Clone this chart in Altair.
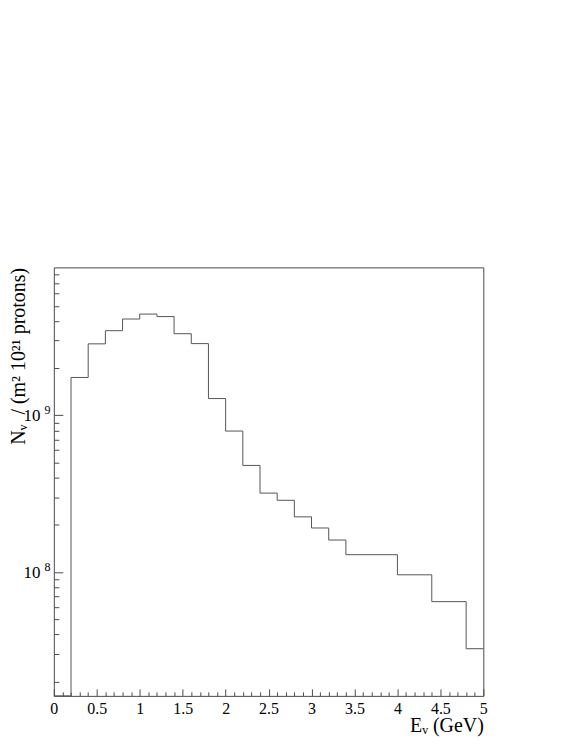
import altair as alt
import pandas as pd

# ---- data ----
EDGES = [0.0, 0.2, 0.4, 0.6, 0.8, 1.0, 1.2, 1.4, 1.6, 1.8, 2.0,
         2.2, 2.4, 2.6, 2.8, 3.0, 3.2, 3.4, 4.0, 4.4, 4.8, 5.0]
COUNTS = [0.0, 1.745e9, 2.86e9, 3.47e9, 4.12e9, 4.43e9, 4.27e9, 3.32e9,
          2.87e9, 1.28e9, 7.94e8, 4.79e8, 3.19e8, 2.87e8, 2.25e8, 1.91e8,
          1.60e8, 1.29e8, 9.6e7, 6.47e7, 3.24e7]

X_MAJOR = [0, 0.5, 1, 1.5, 2, 2.5, 3, 3.5, 4, 4.5, 5]
X_TICKS = [round(i * 0.1, 1) for i in range(51)]
Y_MIN, Y_MAX = 1.62e7, 8.8e9
Y_LABELS = [1e8, 1e9]
Y_TICKS = [m * 10 ** e for e in (7, 8, 9) for m in range(1, 10)
           if Y_MIN <= m * 10 ** e <= Y_MAX]

FONT = "Liberation Serif"
LINE = "#555555"
FRAME = "#4a4a4a"
W, H = 431, 430
NB = "\u00a0"
Y_TITLE = f"Nᵥ{NB}{NB}/{NB}(m²{NB}10²¹{NB}protons)"

rows = [{"E": EDGES[i], "N": max(c, Y_MIN)} for i, c in enumerate(COUNTS)]
rows.append({"E": EDGES[-1], "N": max(COUNTS[-1], Y_MIN)})
df = pd.DataFrame(rows)

xs = alt.Scale(domain=[0, 5], nice=False, zero=False)
ys = alt.Scale(type="log", domain=[Y_MIN, Y_MAX], nice=False)

base = alt.Chart(df)

# main histogram with labels and titles
hist = base.mark_line(interpolate="step-after", color=LINE, strokeWidth=1).encode(
    x=alt.X("E:Q", scale=xs, axis=alt.Axis(
        orient="bottom", values=X_MAJOR, labelExpr="'' + datum.value",
        ticks=False, tickSize=0, domain=False, grid=False,
        labelFont=FONT, labelFontSize=16, labelColor="black", labelPadding=5,
        labelFlush=False, labelOverlap=False,
        title="Eᵥ (GeV)", titleFont=FONT, titleFontSize=20, titleFontWeight="normal",
        titleColor="black", titleX=W, titleY=36, titleAlign="right",
        titleBaseline="alphabetic", titleAnchor="end")),
    y=alt.Y("N:Q", scale=ys, axis=alt.Axis(
        orient="left", values=Y_LABELS, labelExpr="'10'", ticks=False, tickSize=0,
        domain=False, grid=False, labelFont=FONT, labelFontSize=17, labelColor="black",
        labelPadding=14, labelBaseline="middle", labelFlush=False, labelOverlap=False,
        title=Y_TITLE, titleFont=FONT, titleFontSize=20,
        titleFontWeight="normal", titleColor="black", titleAngle=270,
        titleAlign="right", titleBaseline="alphabetic", titleX=-29, titleY=0,
        titleAnchor="end")),
)

# inward ticks (major + minor)
ticks = base.mark_line(opacity=0).encode(
    x=alt.X("E:Q", scale=xs, axis=alt.Axis(
        orient="top", offset=-H, values=X_TICKS, labels=False, domain=False, grid=False,
        tickColor=FRAME, tickWidth=1,
        tickSize={"condition": {"test": "abs(datum.value*2 - round(datum.value*2)) < 0.01",
                                "value": 7}, "value": 4},
        title=None)),
    y=alt.Y("N:Q", scale=ys, axis=alt.Axis(
        orient="right", offset=-W, values=Y_TICKS, labels=False, domain=False, grid=False,
        tickColor=FRAME, tickWidth=1,
        tickSize={"condition": {"test": "abs(log(datum.value)/LN10 - round(log(datum.value)/LN10)) < 0.001",
                                "value": 9}, "value": 5},
        title=None)),
)

# exponent labels for 10^8 / 10^9
expo = base.mark_line(opacity=0).encode(
    x=alt.X("E:Q", scale=xs, axis=None),
    y=alt.Y("N:Q", scale=ys, axis=alt.Axis(
        orient="left", values=Y_LABELS, labelExpr="datum.value > 5e8 ? '9' : '8'",
        ticks=False, tickSize=0, domain=False, grid=False, labelFont=FONT,
        labelFontSize=12, labelColor="black", labelPadding=4, labelOffset=-6,
        labelBaseline="middle", labelFlush=False, labelOverlap=False, title=None)),
)

chart = alt.layer(hist, ticks, expo).resolve_scale(x="independent", y="independent").properties(
    width=W, height=H, autosize="none", background="white",
    padding={"left": 46, "top": 259, "right": 90, "bottom": 47},
).configure_view(stroke=FRAME, strokeWidth=1)

chart.save("out.html", embed_options={"renderer": "svg", "actions": False})
